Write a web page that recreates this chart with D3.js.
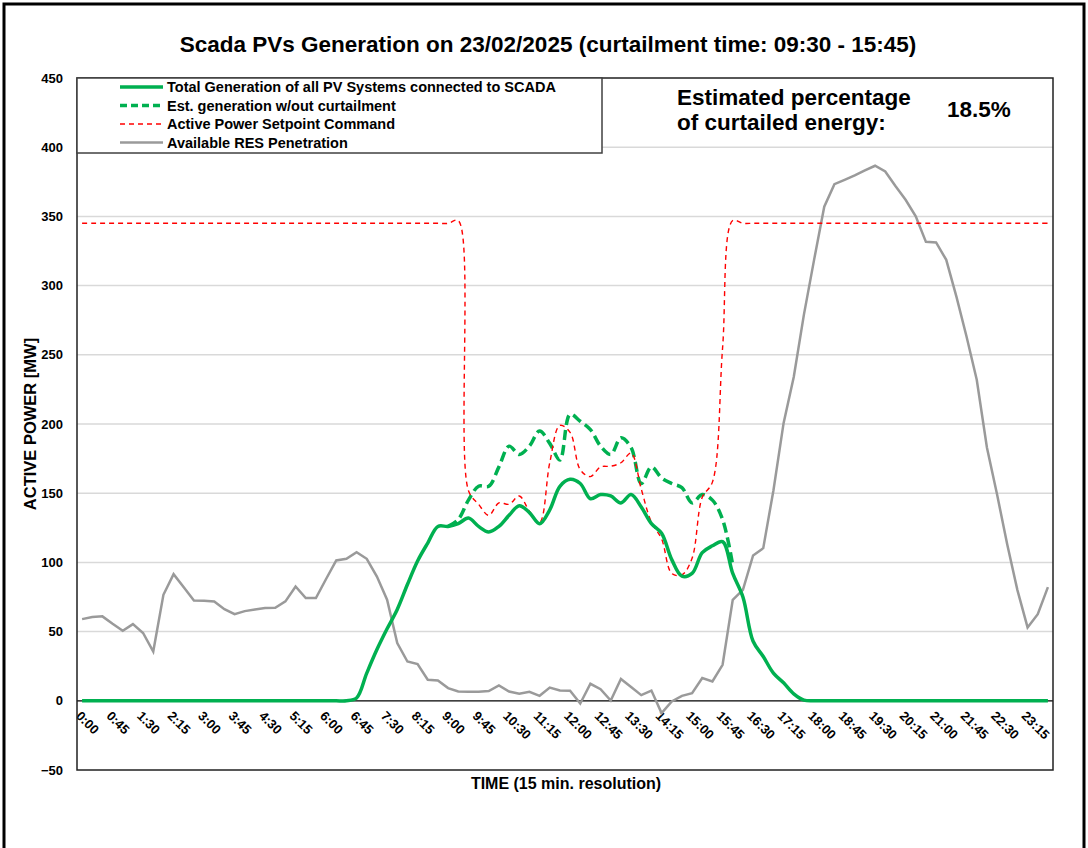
<!DOCTYPE html>
<html>
<head>
<meta charset="utf-8">
<script src="https://cdn.jsdelivr.net/npm/d3@7"></script>
<style>
  body { margin: 0; background: #fff; }
  text { font-family: "Liberation Sans", Arial, sans-serif; font-weight: bold; fill: #000; }
</style>
</head>
<body>
<svg></svg>
<script>
// 0. Data (15 min. resolution, 96 slots)
var times = ['0:00','0:15','0:30','0:45','1:00','1:15','1:30','1:45','2:00','2:15','2:30','2:45',
             '3:00','3:15','3:30','3:45','4:00','4:15','4:30','4:45','5:00','5:15','5:30','5:45',
             '6:00','6:15','6:30','6:45','7:00','7:15','7:30','7:45','8:00','8:15','8:30','8:45',
             '9:00','9:15','9:30','9:45','10:00','10:15','10:30','10:45','11:00','11:15','11:30','11:45',
             '12:00','12:15','12:30','12:45','13:00','13:15','13:30','13:45','14:00','14:15','14:30','14:45',
             '15:00','15:15','15:30','15:45','16:00','16:15','16:30','16:45','17:00','17:15','17:30','17:45',
             '18:00','18:15','18:30','18:45','19:00','19:15','19:30','19:45','20:00','20:15','20:30','20:45',
             '21:00','21:15','21:30','21:45','22:00','22:15','22:30','22:45','23:00','23:15','23:30','23:45'];

var tickLabels = ['0:00','0:45','1:30','2:15','3:00','3:45','4:30','5:15','6:00','6:45','7:30','8:15',
                  '9:00','9:45','10:30','11:15','12:00','12:45','13:30','14:15','15:00','15:45','16:30','17:15',
                  '18:00','18:45','19:30','20:15','21:00','21:45','22:30','23:15'];

var yTicks = [-50, 0, 50, 100, 150, 200, 250, 300, 350, 400, 450];

var totalGeneration = [0,0,0,0,0,0,0,0,0,0,0,0,
                       0,0,0,0,0,0,0,0,0,0,0,0,
                       0,0,0,2,20,37,52,66,84,101,114,126,
                       126,128,132,126,122,126,134,141,136,128,138,155,
                       160,157,146,149,148,143,149,140,128,121,102,90,
                       92,107,112,115,92,75,43,32,20,13,5,0.5,
                       0,0,0,0,0,0,0,0,0,0,0,0,
                       0,0,0,0,0,0,0,0,0,0,0,0];

var estGeneration = [null,null,null,null,null,null,null,null,null,null,null,null,
                     null,null,null,null,null,null,null,null,null,null,null,null,
                     null,null,null,null,null,null,null,null,null,null,null,null,
                     126,131,145,155,155,169,184,178,184,195,186,174,
                     207,202,196,184,178,190,183,157,169,161,157,154,
                     143,149,145,131,98,null,null,null,null,null,null,null,
                     null,null,null,null,null,null,null,null,null,null,null,null,
                     null,null,null,null,null,null,null,null,null,null,null,null];

var setpoint = [345,345,345,345,345,345,345,345,345,345,345,345,
                345,345,345,345,345,345,345,345,345,345,345,345,
                345,345,345,345,345,345,345,345,345,345,345,345,
                345,347,152,142,134,143,142,148,137,129,172,199,
                194,167,162,169,169.5,172,179,153,129,117,92,91,
                103,147,158,255,347,345,345,345,345,345,345,345,
                345,345,345,345,345,345,345,345,345,345,345,345,
                345,345,345,345,345,345,345,345,345,345,345,345];

var resPenetration = [59,60.5,61,55.6,50.6,55.4,49,35.6,76.6,91.5,82,72.5,
                      72.3,71.8,66.2,62.6,64.8,66,67,67.2,71.8,82.6,74.2,74.2,
                      88,101.4,102.6,107.4,102.6,89.8,73,41.7,28.4,26.5,15.2,14.7,
                      9.2,6.7,6.5,6.5,7,11.1,6.7,5.1,6.5,3.6,9.6,7.4,
                      7.2,-2,12.3,8.4,0.2,15.7,9.9,4.1,7.4,-8.9,-0.5,3.6,
                      5.5,16.4,14,26,73,80.2,105,110.3,152,200.6,234,279,
                      318.6,357,373.3,376.4,379.6,383.2,386.6,382.5,372,362,350,331.6,
                      331.2,318.6,292,263,232,183,149,113,80,53,62.6,82.1];

var seriesNames = ['Total Generation of all PV Systems connected to SCADA',
                   'Est. generation w/out curtailment',
                   'Active Power Setpoint Command',
                   'Available RES Penetration'];

// 1. SVG
var svgWidth = 1088;
var svgHeight = 848;
var svg = d3.select('svg')
    .attr('width', svgWidth)
    .attr('height', svgHeight);

// outer frame (bottom edge runs off the picture)
svg.append('rect')
    .attr('x', 4).attr('y', 4)
    .attr('width', 1080).attr('height', 870)
    .style('fill', 'none')
    .style('stroke', '#000')
    .style('stroke-width', 3);

var plot = {left: 77, top: 78, right: 1053, bottom: 770};

// 1.1 scales
var x = d3.scaleBand()
    .domain(times)
    .range([plot.left, plot.right]);

var y = d3.scaleLinear()
    .domain([-50, 450])
    .range([plot.bottom, plot.top]);

var cx = function(i) { return x(times[i]) + x.bandwidth() / 2; };

// 1.2 grid lines
svg.append('g')
    .selectAll('line')
    .data(yTicks.filter(function(d) { return d !== 0 && d !== 450 && d !== -50; }))
    .enter()
    .append('line')
    .attr('x1', plot.left).attr('x2', plot.right)
    .attr('y1', function(d) { return y(d); })
    .attr('y2', function(d) { return y(d); })
    .style('stroke', '#d9d9d9')
    .style('stroke-width', 1.5);

// 1.3 y axis labels
var yAxis = svg.append('g')
    .attr('transform', 'translate(' + plot.left + ',0)')
    .call(d3.axisLeft(y).tickValues(yTicks).tickSize(0).tickPadding(14));
yAxis.select('.domain').remove();
yAxis.selectAll('text')
    .style('font-size', '13px')
    .style('font-family', '"Liberation Sans", Arial, sans-serif')
    .style('font-weight', 'bold');

// 1.4 x axis labels (every 3rd slot), sitting on the zero line
var xAxis = svg.append('g')
    .attr('transform', 'translate(0,' + y(0) + ')')
    .call(d3.axisBottom(x).tickValues(tickLabels).tickSize(0));
xAxis.select('.domain').remove();
xAxis.selectAll('text')
    .style('font-size', '13px')
    .style('font-family', '"Liberation Sans", Arial, sans-serif')
    .style('font-weight', 'bold')
    .style('text-anchor', 'start')
    .attr('x', 0)
    .attr('y', 0)
    .attr('dy', '0.75em')
    .attr('transform', 'translate(0,9) rotate(45)');

// zero line
svg.append('line')
    .attr('x1', plot.left).attr('x2', plot.right)
    .attr('y1', y(0)).attr('y2', y(0))
    .style('stroke', '#000')
    .style('stroke-width', 1.3);

// 2. Lines
var smoothLine = d3.line()
    .defined(function(d) { return d !== null; })
    .x(function(d, i) { return cx(i); })
    .y(function(d) { return y(d); })
    .curve(d3.curveCatmullRom.alpha(0.5));

var straightLine = d3.line()
    .x(function(d, i) { return cx(i); })
    .y(function(d) { return y(d); });

svg.append('path')
    .attr('d', straightLine(resPenetration))
    .style('fill', 'none')
    .style('stroke', '#9a9a9a')
    .style('stroke-width', 2.5);

svg.append('path')
    .attr('d', smoothLine(estGeneration))
    .style('fill', 'none')
    .style('stroke', '#00b050')
    .style('stroke-width', 3.5)
    .style('stroke-dasharray', '10,5');

svg.append('path')
    .attr('d', smoothLine(setpoint))
    .style('fill', 'none')
    .style('stroke', '#ff0000')
    .style('stroke-width', 1.4)
    .style('stroke-dasharray', '5,4');

svg.append('path')
    .attr('d', smoothLine(totalGeneration))
    .style('fill', 'none')
    .style('stroke', '#00b050')
    .style('stroke-width', 3.5)
    .style('stroke-linejoin', 'round');

// plot border
svg.append('rect')
    .attr('x', plot.left).attr('y', plot.top)
    .attr('width', plot.right - plot.left)
    .attr('height', plot.bottom - plot.top)
    .style('fill', 'none')
    .style('stroke', '#202020')
    .style('stroke-width', 1.5);

// 3. Legend
var legend = svg.append('g');
legend.append('rect')
    .attr('x', plot.left).attr('y', plot.top)
    .attr('width', 525).attr('height', 75)
    .style('fill', '#fff')
    .style('stroke', '#404040')
    .style('stroke-width', 1.5);

var legendStyles = [
    {color: '#00b050', width: 3.5, dash: null},
    {color: '#00b050', width: 3.5, dash: '7,4'},
    {color: '#ff0000', width: 1.4, dash: '5,4'},
    {color: '#9a9a9a', width: 2.5, dash: null}
];

var items = legend.selectAll('.item')
    .data(seriesNames)
    .enter()
    .append('g')
    .attr('class', 'item')
    .attr('transform', function(d, i) { return 'translate(0,' + (87 + i * 18.5) + ')'; });

items.append('line')
    .attr('x1', 120).attr('x2', 163)
    .style('stroke', function(d, i) { return legendStyles[i].color; })
    .style('stroke-width', function(d, i) { return legendStyles[i].width; })
    .style('stroke-dasharray', function(d, i) { return legendStyles[i].dash; });

items.append('text')
    .attr('x', 167)
    .attr('dy', '0.35em')
    .style('font-size', '14.5px')
    .text(function(d) { return d; });

// 4. Texts
svg.append('text')
    .attr('x', 548).attr('y', 52)
    .attr('text-anchor', 'middle')
    .style('font-size', '22.5px')
    .text('Scada PVs Generation on 23/02/2025 (curtailment time: 09:30 - 15:45)');

svg.append('text')
    .attr('x', 677).attr('y', 105)
    .style('font-size', '22.5px')
    .text('Estimated percentage');
svg.append('text')
    .attr('x', 677).attr('y', 130)
    .style('font-size', '22.5px')
    .text('of curtailed energy:');
svg.append('text')
    .attr('x', 947).attr('y', 117)
    .style('font-size', '22.5px')
    .text('18.5%');

svg.append('text')
    .attr('x', 566).attr('y', 789)
    .attr('text-anchor', 'middle')
    .style('font-size', '16px')
    .text('TIME (15 min. resolution)');

svg.append('text')
    .attr('transform', 'translate(36,' + y(200) + ') rotate(-90)')
    .attr('text-anchor', 'middle')
    .style('font-size', '16.5px')
    .text('ACTIVE POWER [MW]');
</script>
</body>
</html>
